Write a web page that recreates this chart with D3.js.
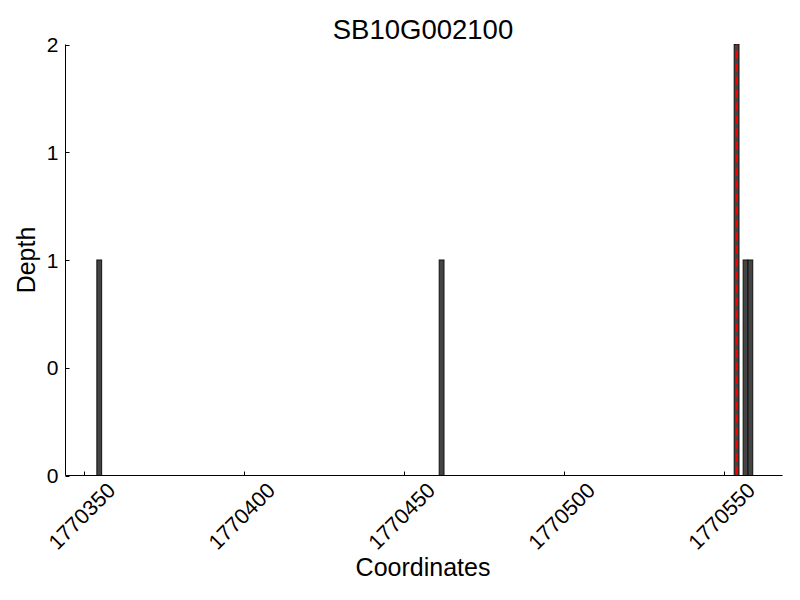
<!DOCTYPE html>
<html>
<head>
<meta charset="utf-8">
<script src="https://cdn.jsdelivr.net/npm/d3@7"></script>
<style>
  body { margin: 0; background: #fff; }
  text { font-family: "Liberation Sans", Arial, sans-serif; fill: #000; }
</style>
</head>
<body>
<div id="chart"></div>
<script>
// --- Data ---
const chartTitle = "SB10G002100";
const binStarts = [1770354, 1770461, 1770553.2, 1770556, 1770557.5];
const binWidth = 1.5;
const depths = [1, 1, 2, 1, 1];
const markerPos = 1770554;
const xTicks = [1770350, 1770400, 1770450, 1770500, 1770550];
const yTicks = [0, 0.5, 1, 1.5, 2];
const yTickLabels = ["0", "0", "1", "1", "2"];

// --- Layout ---
const width = 800, height = 600;
const plotLeft = 65.5, plotRight = 782.5, plotTop = 44.5, plotBottom = 475.5;

const svg = d3.select("#chart").append("svg").attr("width", width).attr("height", height);

const x = d3.scaleLinear().domain([1770344.2, 1770568.3]).range([plotLeft, plotRight]);
const y = d3.scaleLinear().domain([0, 2]).range([plotBottom, plotTop]);

// bars
svg.selectAll("rect.bar").data(binStarts).join("rect")
  .attr("class", "bar")
  .attr("x", d => x(d))
  .attr("y", (d, i) => y(depths[i]))
  .attr("width", x(binStarts[0] + binWidth) - x(binStarts[0]))
  .attr("height", (d, i) => y(0) - y(depths[i]))
  .attr("fill", "#444")
  .attr("stroke", "#111")
  .attr("stroke-width", 1);

// marker line
svg.append("line")
  .attr("x1", x(markerPos)).attr("x2", x(markerPos))
  .attr("y1", y(2)).attr("y2", y(0))
  .attr("stroke", "red").attr("stroke-width", 2)
  .attr("stroke-dasharray", "8,5").attr("stroke-dashoffset", -6);

// axes spines
svg.append("line").attr("x1", plotLeft).attr("x2", plotLeft).attr("y1", plotTop).attr("y2", plotBottom)
  .attr("stroke", "#000").attr("stroke-width", 1);
svg.append("line").attr("x1", plotLeft).attr("x2", plotRight).attr("y1", plotBottom).attr("y2", plotBottom)
  .attr("stroke", "#000").attr("stroke-width", 1);

// x ticks (inward)
svg.selectAll("line.xt").data(xTicks).join("line")
  .attr("x1", d => Math.round(x(d)) + 0.5).attr("x2", d => Math.round(x(d)) + 0.5)
  .attr("y1", plotBottom).attr("y2", plotBottom - 4)
  .attr("stroke", "#000");
svg.selectAll("text.xl").data(xTicks).join("text")
  .attr("transform", d => `translate(${x(d) - 2},${plotBottom + 41}) rotate(-45)`)
  .attr("text-anchor", "middle")
  .attr("dominant-baseline", "central")
  .attr("font-size", 21.5)
  .text(d => d);

// y ticks (inward)
svg.selectAll("line.yt").data(yTicks).join("line")
  .attr("x1", plotLeft).attr("x2", plotLeft + 4)
  .attr("y1", d => Math.round(y(d)) + 0.5).attr("y2", d => Math.round(y(d)) + 0.5)
  .attr("stroke", "#000");
svg.selectAll("text.yl").data(yTicks).join("text")
  .attr("x", plotLeft - 7)
  .attr("y", d => y(d))
  .attr("text-anchor", "end")
  .attr("dominant-baseline", "central")
  .attr("font-size", 21)
  .text((d, i) => yTickLabels[i]);

// labels
svg.append("text").attr("x", 423).attr("y", 39)
  .attr("text-anchor", "middle").attr("font-size", 27.5).text(chartTitle);
svg.append("text").attr("x", 423).attr("y", 576)
  .attr("text-anchor", "middle").attr("font-size", 25).text("Coordinates");
svg.append("text").attr("transform", `translate(35,${(plotTop + plotBottom) / 2}) rotate(-90)`)
  .attr("text-anchor", "middle").attr("font-size", 25).text("Depth");
</script>
</body>
</html>
